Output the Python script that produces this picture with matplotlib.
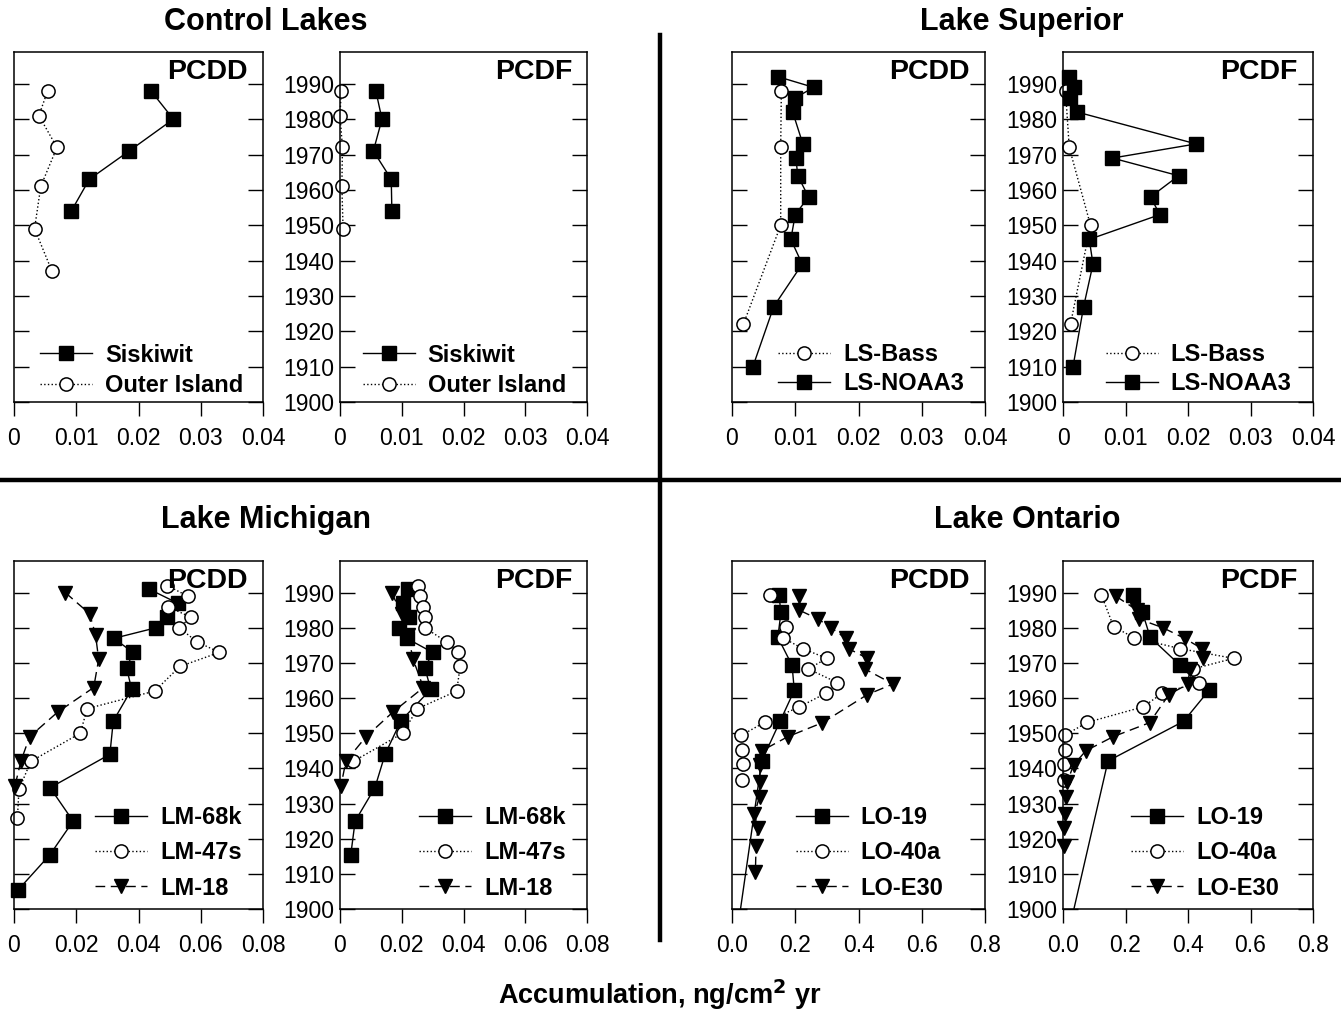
import numpy as np
import matplotlib
matplotlib.use("Agg")
import matplotlib.pyplot as plt
from matplotlib.lines import Line2D

plt.rcParams['font.family'] = ['Liberation Sans', 'DejaVu Sans']

nan = np.nan

# ---- Control lakes ----
sisk_yr = [1988, 1980, 1971, 1963, 1954]
sisk_pcdd = [0.0220, 0.0256, 0.0185, 0.0121, 0.0092]
sisk_pcdf = [0.0058, 0.0068, 0.0054, 0.0083, 0.0084]
outer_yr = [1988, 1981, 1972, 1961, 1949, 1937]
outer_pcdd = [0.0054, 0.0040, 0.0069, 0.0043, 0.0033, 0.0061]
outer_pcdf = [0.0002, 0.0000, 0.0004, 0.0003, 0.0005, nan]

# ---- Lake Superior ----
bass_yr = [1988, 1972, 1950, 1922]
bass_pcdd = [0.0078, 0.0077, 0.0077, 0.0018]
bass_pcdf = [0.0004, 0.0010, 0.0044, 0.0012]
noaa_yr = [1992, 1989, 1986, 1982, 1973, 1969, 1964, 1958, 1953, 1946, 1939, 1927, 1910]
noaa_pcdd = [0.0073, 0.0129, 0.0100, 0.0096, 0.0112, 0.0101, 0.0104, 0.0121, 0.0100,
             0.0093, 0.0111, 0.0066, 0.0033]
noaa_pcdf = [0.0010, 0.0018, 0.0011, 0.0023, 0.0213, 0.0079, 0.0185, 0.0140, 0.0155,
             0.0042, 0.0048, 0.0033, 0.0016]

# ---- Lake Michigan ----
lm68_yr = [1991, 1987, 1983, 1980, 1977, 1973, 1968.5, 1962.5, 1953.5, 1944, 1934.5, 1925, 1915.5, 1905.5]
lm68_pcdd = [0.0434, 0.0526, 0.0490, 0.0456, 0.0321, 0.0382, 0.0362, 0.0378, 0.0319, 0.0308,
             0.0116, 0.0190, 0.0116, 0.0014]
lm68_pcdf = [0.0221, 0.0203, 0.0225, 0.0192, 0.0216, 0.0300, 0.0275, 0.0294, 0.0197, 0.0146,
             0.0113, 0.0049, 0.0035, nan]
lm47_yr = [1992, 1989, 1986, 1983, 1980, 1976, 1973, 1969, 1962, 1957, 1950, 1942, 1934, 1926]
lm47_pcdd = [0.0493, 0.0558, 0.0495, 0.0568, 0.0531, 0.0588, 0.0660, 0.0533, 0.0452, 0.0235,
             0.0213, 0.0054, 0.0016, 0.0011]
lm47_pcdf = [0.0253, 0.0259, 0.0270, 0.0275, 0.0275, 0.0345, 0.0383, 0.0389, 0.0378, 0.0251,
             0.0203, 0.0043, nan, nan]
lm18_yr = [1990, 1984, 1978, 1971, 1963, 1956, 1949, 1942, 1935]
lm18_pcdd = [0.0165, 0.0243, 0.0262, 0.0272, 0.0256, 0.0140, 0.0050, 0.0022, 0.0003]
lm18_pcdf = [0.0167, 0.0200, 0.0220, 0.0237, 0.0270, 0.0171, 0.0084, 0.0019, 0.0003]

# ---- Lake Ontario ----
lo19_yr = [1989.3, 1984.5, 1977.3, 1969.3, 1962.2, 1953.4, 1942.1, 1890]
lo19_pcdd = [0.148, 0.155, 0.145, 0.190, 0.197, 0.152, 0.094, 0.011]
lo19_pcdf = [0.223, 0.254, 0.279, 0.375, 0.467, 0.386, 0.144, 0.009]
lo40_yr = [1989.3, 1980.3, 1977.2, 1974.1, 1971.3, 1968.3, 1964.4, 1961.4, 1957.5, 1953.1,
           1949.4, 1945.2, 1941.2, 1936.6]
lo40_pcdd = [0.121, 0.171, 0.160, 0.223, 0.300, 0.241, 0.333, 0.297, 0.213, 0.103,
             0.029, 0.031, 0.035, 0.031]
lo40_pcdf = [0.123, 0.162, 0.227, 0.373, 0.546, 0.416, 0.435, 0.318, 0.256, 0.078,
             0.005, 0.005, 0.002, 0.002]
loe30_yr = [1989, 1985, 1982.5, 1980, 1977, 1974, 1971.3, 1968.2, 1964, 1961, 1953, 1949,
            1945, 1941, 1936, 1932, 1927, 1923, 1918, 1910.5]
loe30_pcdd = [0.213, 0.213, 0.272, 0.314, 0.359, 0.370, 0.428, 0.422, 0.509, 0.428, 0.286, 0.176,
              0.094, 0.090, 0.087, 0.087, 0.071, 0.082, 0.076, 0.074]
loe30_pcdf = [0.169, 0.237, 0.243, 0.320, 0.389, 0.446, 0.448, 0.405, 0.400, 0.339, 0.277, 0.160,
              0.073, 0.034, 0.013, 0.009, 0.005, 0.002, 0.002, nan]

# styles
SQ = dict(marker='s', color='black', ls='-', lw=1.0, ms=10, mfc='black', mec='black')
CI = dict(marker='o', color='black', ls=':', lw=1.0, ms=9.5, mfc='white', mec='black', mew=1.1)
TR = dict(marker='v', color='black', ls=(0, (7, 4)), lw=1.0, ms=10, mfc='black', mec='black')

W, H = 1341, 1011
fig = plt.figure(figsize=(W / 100, H / 100), dpi=100)

cols = [(14, 249), (340, 247), (732, 253), (1063, 250)]
rows = [(52, 402), (561, 909)]


def make_ax(col, row):
    l, w = cols[col]
    t, b = rows[row]
    return fig.add_axes([l / W, 1 - b / H, w / W, (b - t) / H])


def style(ax, xmax, xticks, xlabels, label, show_y):
    ax.set_xlim(0, xmax)
    ax.set_ylim(1900, 1999)
    ax.set_xticks(xticks)
    ax.set_xticklabels(xlabels)
    ax.set_yticks(range(1900, 1991, 10))
    ax.tick_params(axis='y', direction='in', length=11, width=1.0, left=True, right=True,
                   labelleft=show_y, labelsize=16.5, pad=4)
    ax.tick_params(axis='x', direction='out', length=10, width=1.0, labelsize=16.5, pad=8)
    for s in ax.spines.values():
        s.set_linewidth(1.1)
    ax.text(0.94, 0.943, label, transform=ax.transAxes, ha='right', va='center',
            fontsize=20.5, fontweight='bold')


def leg(ax, loc, anchor, ls):
    ax.legend(loc=loc, bbox_to_anchor=anchor, frameon=False, handlelength=2.2,
              handletextpad=0.55, labelspacing=ls,
              prop={'weight': 'bold', 'size': 17})


x04 = [0, 0.01, 0.02, 0.03, 0.04]
x04l = ['0', '0.01', '0.02', '0.03', '0.04']
x08 = [0, 0.02, 0.04, 0.06, 0.08]
x08l = ['0', '0.02', '0.04', '0.06', '0.08']
x8 = [0, 0.2, 0.4, 0.6, 0.8]
x8l = ['0.0', '0.2', '0.4', '0.6', '0.8']

# Control lakes
for i, (dd, ff, lab) in enumerate([(sisk_pcdd, outer_pcdd, 'PCDD'), (sisk_pcdf, outer_pcdf, 'PCDF')]):
    ax = make_ax(i, 0)
    ax.plot(dd, sisk_yr, label='Siskiwit', clip_on=False, **SQ)
    ax.plot(ff, outer_yr, label='Outer Island', clip_on=False, **CI)
    style(ax, 0.04, x04, x04l, lab, i == 1)
    if i == 0:
        leg(ax, 'lower left', (0.02, -0.047), 0.32)
    else:
        leg(ax, 'lower right', (1.0, -0.047), 0.32)

# Lake Superior
for i, (b, n, lab) in enumerate([(bass_pcdd, noaa_pcdd, 'PCDD'), (bass_pcdf, noaa_pcdf, 'PCDF')]):
    ax = make_ax(2 + i, 0)
    ax.plot(b, bass_yr, label='LS-Bass', clip_on=False, **CI)
    ax.plot(n, noaa_yr, label='LS-NOAA3', clip_on=False, **SQ)
    style(ax, 0.04, x04, x04l, lab, i == 1)
    leg(ax, 'lower right', (1.0, -0.042), 0.28)

# Lake Michigan
for i, (a, b, c, lab) in enumerate([(lm68_pcdd, lm47_pcdd, lm18_pcdd, 'PCDD'),
                                    (lm68_pcdf, lm47_pcdf, lm18_pcdf, 'PCDF')]):
    ax = make_ax(i, 1)
    ax.plot(a, lm68_yr, label='LM-68k', clip_on=False, **SQ)
    ax.plot(b, lm47_yr, label='LM-47s', clip_on=False, **CI)
    ax.plot(c, lm18_yr, label='LM-18', clip_on=False, **TR)
    style(ax, 0.08, x08, x08l, lab, i == 1)
    leg(ax, 'lower right', (1.0, -0.034), 0.52)

# Lake Ontario
for i, (a, b, c, lab) in enumerate([(lo19_pcdd, lo40_pcdd, loe30_pcdd, 'PCDD'),
                                    (lo19_pcdf, lo40_pcdf, loe30_pcdf, 'PCDF')]):
    ax = make_ax(2 + i, 1)
    ax.plot(a, lo19_yr, label='LO-19', **SQ)
    ax.plot(b, lo40_yr, label='LO-40a', clip_on=False, **CI)
    ax.plot(c, loe30_yr, label='LO-E30', clip_on=False, **TR)
    style(ax, 0.8, x8, x8l, lab, i == 1)
    leg(ax, 'lower right', (0.92 if i == 0 else 0.95, -0.034), 0.52)

# group titles
for txt, x, y in [('Control Lakes', 266, 22), ('Lake Superior', 1022, 22),
                  ('Lake Michigan', 266, 520), ('Lake Ontario', 1027, 520)]:
    fig.text(x / W, 1 - y / H, txt, ha='center', va='center', fontsize=22, fontweight='bold')

# dividers
fig.add_artist(Line2D([660 / W, 660 / W], [1 - 35 / H, 1 - 940 / H], color='black', lw=3.2))
fig.add_artist(Line2D([0, 1], [1 - 480 / H, 1 - 480 / H], color='black', lw=3.2))

fig.text(660 / W, 1 - 995 / H, 'Accumulation, ng/cm$^\\mathbf{2}$ yr', ha='center', va='center',
         fontsize=19.5, fontweight='bold')

fig.savefig('out.png', dpi=100)
